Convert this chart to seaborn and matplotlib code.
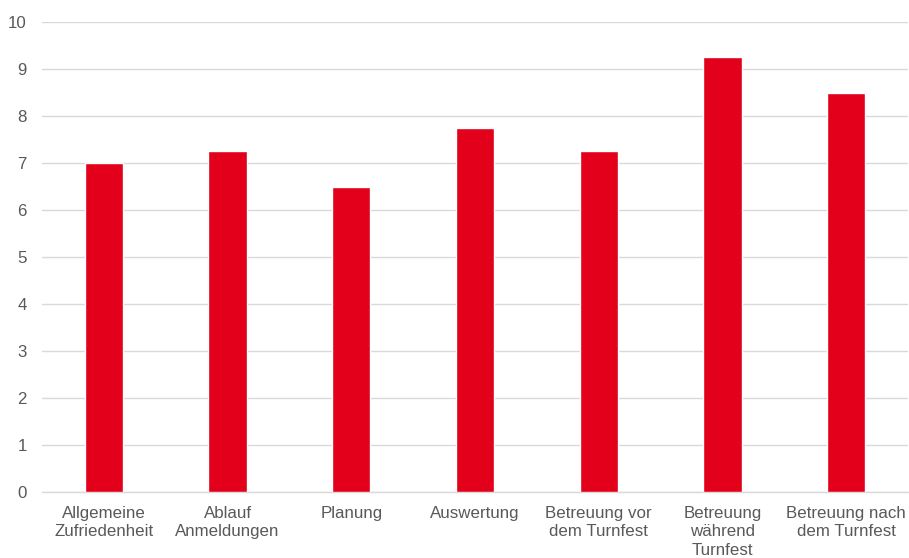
import pandas as pd
import matplotlib
matplotlib.use("Agg")
import matplotlib.pyplot as plt
import seaborn as sns

# Data
categories = ["Allgemeine\nZufriedenheit", "Ablauf\nAnmeldungen", "Planung", "Auswertung",
              "Betreuung vor\ndem Turnfest", "Betreuung\nwährend\nTurnfest",
              "Betreuung nach\ndem Turnfest"]
values = [7.0, 7.25, 6.5, 7.75, 7.25, 9.25, 8.5]
y_ticks = list(range(0, 11))

df = pd.DataFrame({"Kategorie": categories, "Wert": values})

sns.set_theme(style="white")
plt.rcParams['font.family'] = ['Liberation Sans', 'DejaVu Sans']

fig = plt.figure(figsize=(9.09, 5.58), dpi=100)
ax = fig.add_axes([42 / 909, 1 - 492 / 558, 866 / 909, 470 / 558])

sns.barplot(data=df, x="Kategorie", y="Wert", color="#E2001A", width=0.31,
            saturation=1, ax=ax, zorder=3)

ax.set_ylim(0, 10)
ax.set_yticks(y_ticks)
ax.set_xlim(-0.5, len(categories) - 0.5)
ax.grid(axis='y', color='#D9D9D9', linewidth=1, zorder=0)
ax.set_axisbelow(True)
for s in ['top', 'right', 'left']:
    ax.spines[s].set_visible(False)
ax.spines['bottom'].set_color('#D9D9D9')
ax.spines['bottom'].set_linewidth(1)
ax.tick_params(axis='both', length=0, labelsize=12.2, labelcolor='#595959')
ax.tick_params(axis='y', pad=11)
ax.tick_params(axis='x', pad=10)
for lbl in ax.get_xticklabels():
    lbl.set_linespacing(1.3)
ax.set_xlabel("")
ax.set_ylabel("")

fig.savefig("out.png", dpi=100)
